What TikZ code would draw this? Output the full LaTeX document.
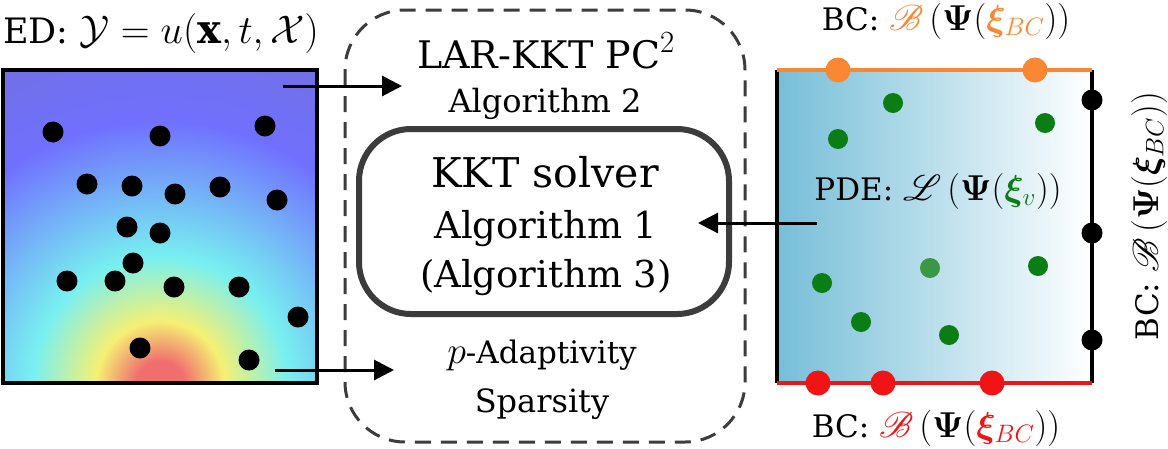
\RequirePackage{fix-cm}
\documentclass[tikz,border=0pt]{standalone}
\usepackage{amsmath,bm,mathrsfs}
\DeclareFontFamily{U}{rsfs}{\skewchar\font127 }
\DeclareFontShape{U}{rsfs}{m}{n}{<-> rsfs10}{}
\usepackage{fontspec}
\setmainfont{DejaVu Serif}
\usetikzlibrary{arrows.meta}

\definecolor{jdark}{RGB}{114,112,200}
\definecolor{jblue}{RGB}{112,112,255}
\definecolor{jcyan}{RGB}{120,240,240}
\definecolor{jyellow}{RGB}{245,240,115}
\definecolor{jred}{RGB}{240,110,110}
\definecolor{pdeblue}{RGB}{118,190,216}
\definecolor{bcorange}{RGB}{250,135,50}
\definecolor{bcred}{RGB}{240,20,20}
\definecolor{colgreen}{RGB}{10,125,20}
\definecolor{boxgray}{RGB}{60,60,60}

\pgfdeclareradialshading{jet}{\pgfpoint{0bp}{0bp}}{%
  color(0bp)=(jred); color(1.5bp)=(jred); color(4bp)=(jyellow);
  color(8bp)=(jcyan); color(16.5bp)=(jblue); color(28bp)=(jdark);
  color(50bp)=(jdark)}

\tikzset{
  dot/.style={circle,fill=black,inner sep=0pt,minimum size=21pt},
  gdot/.style={circle,fill=colgreen,inner sep=0pt,minimum size=20pt},
  link/.style={line width=3pt,-{Triangle[length=20pt,width=20pt]}},
  txt/.style={inner sep=0pt,anchor=base}
}
\newcommand{\sz}[1]{\fontsize{#1}{#1}\selectfont}

\begin{document}
\begin{tikzpicture}[x=1pt,y=-1pt]
    \useasboundingbox (0,0) rectangle (1168,448);

    % ED domain with the rainbow field
    \begin{scope}
      \clip (3,70) rectangle (317,383);
      \fill[jdark] (3,70) rectangle (317,383);
      \shade[shading=jet] (160,385) ellipse [x radius=400, y radius=400];
    \end{scope}
    \draw[line width=4pt] (3,70) rectangle (317,383);
    \node[txt,font=\sz{35}] (ed) at (161,43)
      {ED: {\sz{40}$\mathcal{Y}=u(\mathbf{x},t,\mathcal{X})$}};

    % Place the data points
    \foreach \x/\y [count=\i] in {53/132,160/136,265/126,87/184,132/186,175/194,
        220/187,277/200,127/227,160/233,133/263,67/281,115/281,174/287,
        239/287,298/317,140/348,249/360}
      \node[dot] (e\i) at (\x,\y) {};

    % PDE domain
    \shade[left color=pdeblue,right color=white] (777,70) rectangle (1092,383);
    \draw[line width=4pt] (777,383) -- (777,70);
    \draw[line width=4pt] (1092,70) -- (1092,383);
    \draw[line width=4pt,bcorange] (777,70) -- (1092,70);
    \draw[line width=4pt,bcred] (777,383) -- (1092,383);

    % Place the collocation points
    \foreach \x/\y [count=\i] in {893/103,838/139,1045/123,822/283,861/322,
        1038/266,949/335}
      \node[gdot] (v\i) at (\x,\y) {};
    \node[gdot,fill=colgreen!80!white] (v8) at (930,268) {};
    \node[dot,fill=bcorange,minimum size=25pt] (t1) at (838,70) {};
    \node[dot,fill=bcorange,minimum size=25pt] (t2) at (1035,70) {};
    \node[dot,fill=bcred,minimum size=25pt] (b1) at (818,383) {};
    \node[dot,fill=bcred,minimum size=25pt] (b2) at (883,383) {};
    \node[dot,fill=bcred,minimum size=25pt] (b3) at (992,383) {};
    \node[dot] (r1) at (1092,100) {};
    \node[dot] (r2) at (1092,233) {};
    \node[dot] (r3) at (1092,340) {};

    % Labels of the PDE domain
    \node[txt,font=\sz{31}] (pde) at (938,200)
      {PDE: {\sz{36}$\mathscr{L}\,(\bm{\Psi}(\textcolor{colgreen}{\bm{\xi}_{v}}))$}};
    \node[txt,font=\sz{31}] (bctop) at (946,30)
      {BC: {\sz{36}$\textcolor{bcorange}{\mathscr{B}}\,(\bm{\Psi}(\textcolor{bcorange}{\bm{\xi}_{BC}}))$}};
    \node[txt,font=\sz{31}] (bcbot) at (936,437)
      {BC: {\sz{36}$\textcolor{bcred}{\mathscr{B}}\,(\bm{\Psi}(\textcolor{bcred}{\bm{\xi}_{BC}}))$}};
    \node[txt,rotate=90,font=\sz{31}] (bcright) at (1158,216)
      {BC: {\sz{36}$\mathscr{B}\,(\bm{\Psi}(\bm{\xi}_{BC}))$}};

    % The PC^2 block
    \draw[boxgray,line width=3pt,dash pattern=on 16pt off 10pt,rounded corners=60pt]
      (345,10) rectangle (745,442);
    \draw[boxgray,line width=6pt,rounded corners=52pt] (359,129) rectangle (729,314);
    \node[txt,font=\sz{38}] (lar) at (546,68) {LAR-KKT PC{\sz{44}$^2$}};
    \node[txt,font=\sz{32}] (alg2) at (545,112) {Algorithm 2};
    \node[txt,font=\sz{41}] (kkt) at (545,187) {KKT solver};
    \node[txt,font=\sz{37}] (alg1) at (546,238) {Algorithm 1};
    \node[txt,font=\sz{37}] (alg3) at (546,287) {(Algorithm 3)};
    \node[txt,font=\sz{31}] (padapt) at (542,363) {{\sz{38}$p$}-Adaptivity};
    \node[txt,font=\sz{32}] (sparse) at (542,412) {Sparsity};

    % Draw the arrows
    \coordinate (a1) at (283,86);
    \coordinate (a2) at (402,86);
    \coordinate (a3) at (275,370);
    \coordinate (a4) at (394,370);
    \coordinate (a5) at (817,223);
    \coordinate (a6) at (698,223);
    \draw[link] (a1) -- (a2);
    \draw[link] (a3) -- (a4);
    \draw[link] (a5) -- (a6);

\end{tikzpicture}
\end{document}
